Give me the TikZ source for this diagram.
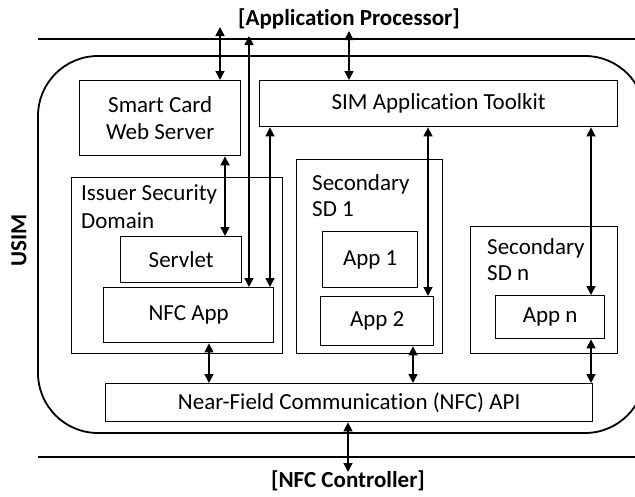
\documentclass[tikz,border=0pt]{standalone}
\usepackage{fontspec}
\setmainfont[Ligatures=NoCommon]{Carlito}
\usetikzlibrary{arrows.meta}
\begin{document}
\begin{tikzpicture}[x=1pt,y=-1pt,
  every node/.style={font=\fontsize{23}{27}\selectfont},
  box/.style={draw, line width=1.4pt, inner sep=0pt, anchor=north west, align=center},
  lbl/.style={anchor=base west, inner sep=0pt, align=left},
  ttl/.style={font=\fontsize{23}{27}\selectfont\bfseries, inner sep=0pt},
  dbl/.style={line width=1.5pt, {Triangle[length=9pt,width=9pt]}-{Triangle[length=9pt,width=9pt]}},
  bus/.style={line width=1.3pt}]
\useasboundingbox (0,0) rectangle (635,496);
\clip (0,0) rectangle (635,496);

% interface lines and their labels
\node[ttl, anchor=base] (ap) at (349,25) {[Application Processor]};
\node[ttl, anchor=base] (nfcc) at (348,487) {[NFC Controller]};
\coordinate (topL) at (38,39);
\coordinate (topR) at (635,39);
\coordinate (botL) at (38,457);
\coordinate (botR) at (635,457);
\draw[bus] (topL) -- (topR);
\draw[bus] (botL) -- (botR);

% USIM container
\draw[line width=1.8pt, rounded corners=60pt] (38,56) rectangle (645,433);
\node[ttl, rotate=90] (usim) at (19,240) {USIM};

% components
\node[box, minimum width=161pt, minimum height=75pt] (scws) at (79,80) {Smart Card\\Web Server};
\node[box, minimum width=358pt, minimum height=46pt] (sat) at (259,80) {SIM Application Toolkit};

\node[box, minimum width=211pt, minimum height=176pt] (isd) at (71,177) {};
\node[lbl] (isdtxt) at (81,228) {Issuer Security\\[1pt]Domain};
\node[box, minimum width=121pt, minimum height=46pt] (servlet) at (120,236) {Servlet};
\node[box, minimum width=170pt, minimum height=55pt] (nfcapp) at (103,287) {NFC App};

\node[box, minimum width=146pt, minimum height=194pt] (ssd1) at (296,159) {};
\node[lbl] (ssd1txt) at (312,216) {Secondary\\[-1pt]SD 1};
\node[box, minimum width=95pt, minimum height=56pt] (app1) at (322,231) {App 1};
\node[box, minimum width=113pt, minimum height=49pt] (app2) at (320,296) {App 2};

\node[box, minimum width=147pt, minimum height=127pt] (ssdn) at (470,226) {};
\node[lbl] (ssdntxt) at (487,280) {Secondary\\[-1pt]SD n};
\node[box, minimum width=109pt, minimum height=43pt] (appn) at (495,295) {App n};

\node[box, minimum width=487pt, minimum height=38pt] (api) at (105,383) {Near-Field Communication (NFC) API};

% connectors
\coordinate (apA) at (220,27);
\coordinate (apB) at (249,36);
\coordinate (apC) at (349,31);
\coordinate (nfcB) at (348,472);
\draw[dbl] (apA) -- (scws.north -| apA);
\draw[dbl] (apB) -- (nfcapp.north -| apB);
\draw[dbl] (apC) -- (sat.north -| apC);
\draw[dbl] (scws.south -| 225,0) -- (servlet.north -| 225,0);
\draw[dbl] (sat.south -| 270,0) -- (nfcapp.north -| 270,0);
\draw[dbl] (sat.south -| 428,0) -- (app2.north -| 428,0);
\draw[dbl] (sat.south -| 591,0) -- (appn.north -| 591,0);
\draw[dbl] (nfcapp.south -| 209,0) -- (api.north -| 209,0);
\draw[dbl] (app2.south -| 413,0) -- (api.north -| 413,0);
\draw[dbl] (appn.south -| 591,0) -- (api.north -| 591,0);
\draw[dbl] (api.south -| nfcB) -- (nfcB);
\end{tikzpicture}
\end{document}
